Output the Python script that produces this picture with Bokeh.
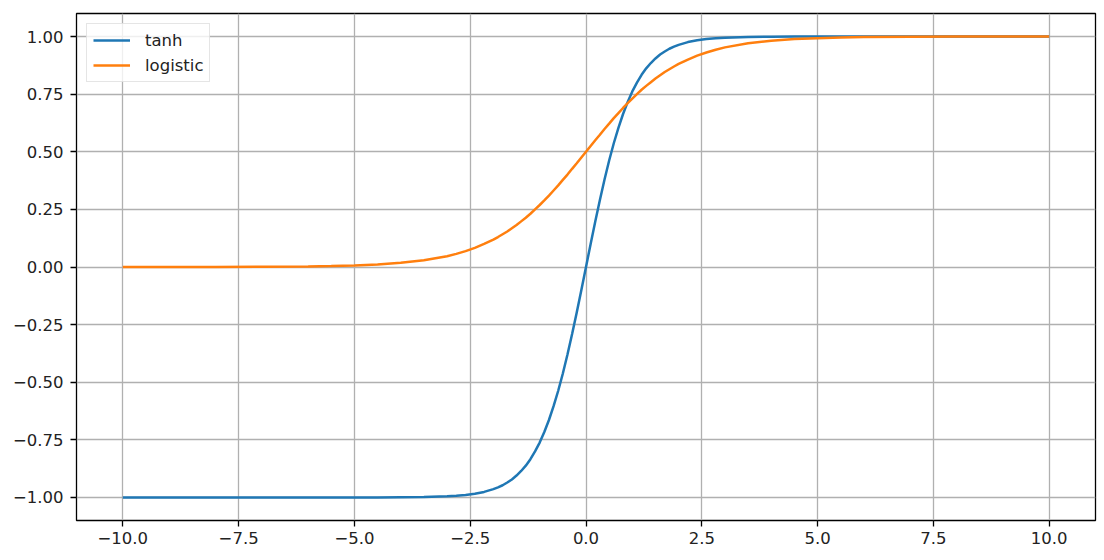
from bokeh.plotting import figure
from bokeh.models import FixedTicker, Range1d, Legend, LegendItem
from bokeh.embed import file_html
from bokeh.resources import INLINE

x_vals = [-10, -9, -8, -7, -6, -5.5, -5, -4.5, -4, -3.5, -3.0, -2.8, -2.6, -2.4, -2.2,
          -2.0, -1.9, -1.8, -1.7, -1.6, -1.5, -1.4, -1.3, -1.2, -1.1, -1.0, -0.9, -0.8,
          -0.7, -0.6, -0.5, -0.4, -0.3, -0.2, -0.1, 0.0,
          0.1, 0.2, 0.3, 0.4, 0.5, 0.6, 0.7, 0.8, 0.9, 1.0, 1.1, 1.2, 1.3, 1.4, 1.5, 1.6,
          1.7, 1.8, 1.9, 2.0, 2.2, 2.4, 2.6, 2.8, 3.0, 3.5, 4, 4.5, 5, 5.5, 6, 7, 8, 9, 10]
tanh_vals = [-1.000, -1.000, -1.000, -1.000, -1.000, -1.000, -1.000, -1.000, -0.999, -0.998,
             -0.995, -0.993, -0.989, -0.984, -0.976, -0.964, -0.956, -0.947, -0.935, -0.922,
             -0.905, -0.885, -0.862, -0.834, -0.800, -0.762, -0.716, -0.664, -0.604, -0.537,
             -0.462, -0.380, -0.291, -0.197, -0.100, 0.000,
             0.100, 0.197, 0.291, 0.380, 0.462, 0.537, 0.604, 0.664, 0.716, 0.762, 0.800,
             0.834, 0.862, 0.885, 0.905, 0.922, 0.935, 0.947, 0.956, 0.964, 0.976, 0.984,
             0.989, 0.993, 0.995, 0.998, 0.999, 1.000, 1.000, 1.000, 1.000, 1.000, 1.000,
             1.000, 1.000]
logistic_vals = [0.000, 0.000, 0.000, 0.001, 0.002, 0.004, 0.007, 0.011, 0.018, 0.029,
                 0.047, 0.057, 0.069, 0.083, 0.100, 0.119, 0.130, 0.142, 0.154, 0.168,
                 0.182, 0.198, 0.214, 0.231, 0.250, 0.269, 0.289, 0.310, 0.332, 0.354,
                 0.378, 0.401, 0.426, 0.450, 0.475, 0.500,
                 0.525, 0.550, 0.574, 0.599, 0.622, 0.646, 0.668, 0.690, 0.711, 0.731, 0.750,
                 0.769, 0.786, 0.802, 0.818, 0.832, 0.846, 0.858, 0.870, 0.881, 0.900, 0.917,
                 0.931, 0.943, 0.953, 0.971, 0.982, 0.989, 0.993, 0.996, 0.998, 0.999, 1.000,
                 1.000, 1.000]
series_names = ["tanh", "logistic"]
x_ticks = [-10.0, -7.5, -5.0, -2.5, 0.0, 2.5, 5.0, 7.5, 10.0]
y_ticks = [-1.0, -0.75, -0.5, -0.25, 0.0, 0.25, 0.5, 0.75, 1.0]

def fmt(v, d):
    s = f"{v:.{d}f}"
    return s.replace("-", "\u2212")

p = figure(width=1098, height=556, output_backend="svg", toolbar_location=None,
           x_range=Range1d(-11, 11), y_range=Range1d(-1.1, 1.1),
           min_border_left=76, min_border_right=3, min_border_top=13, min_border_bottom=36)
p.background_fill_color = "white"
p.border_fill_color = "white"
p.outline_line_color = "black"
p.outline_line_width = 1.3

r1 = p.line(x_vals, tanh_vals, line_color="#1f77b4", line_width=2.5)
r2 = p.line(x_vals, logistic_vals, line_color="#ff7f0e", line_width=2.5)

p.xaxis.ticker = FixedTicker(ticks=x_ticks)
p.yaxis.ticker = FixedTicker(ticks=y_ticks)
p.xaxis.major_label_overrides = {t: fmt(t, 1) for t in x_ticks}
p.yaxis.major_label_overrides = {t: fmt(t, 2) for t in y_ticks}

for ax in (p.xaxis, p.yaxis):
    ax.axis_line_color = None
    ax.minor_tick_line_color = None
    ax.major_tick_in = 0
    ax.major_tick_out = 6
    ax.major_tick_line_color = "black"
    ax.major_tick_line_width = 1.3
    ax.major_label_text_font = "DejaVu Sans"
    ax.major_label_text_font_size = "16.5px"
    ax.major_label_text_color = "#222222"
p.xaxis.major_label_standoff = 5
p.yaxis.major_label_standoff = 7

p.grid.grid_line_color = "#b0b0b0"
p.grid.grid_line_width = 1.3

legend = Legend(items=[LegendItem(label=series_names[0], renderers=[r1]),
                       LegendItem(label=series_names[1], renderers=[r2])],
                location="top_left")
legend.margin = 10
legend.padding = 6
legend.spacing = 5
legend.glyph_width = 37
legend.glyph_height = 20
legend.label_height = 20
legend.label_standoff = 15
legend.label_text_font = "DejaVu Sans"
legend.label_text_font_size = "16.5px"
legend.label_text_color = "#222222"
legend.border_line_color = "#cccccc"
legend.border_line_width = 1.3
legend.background_fill_alpha = 0.8
p.add_layout(legend, "center")

open("out.html", "w").write(file_html(p, INLINE))
